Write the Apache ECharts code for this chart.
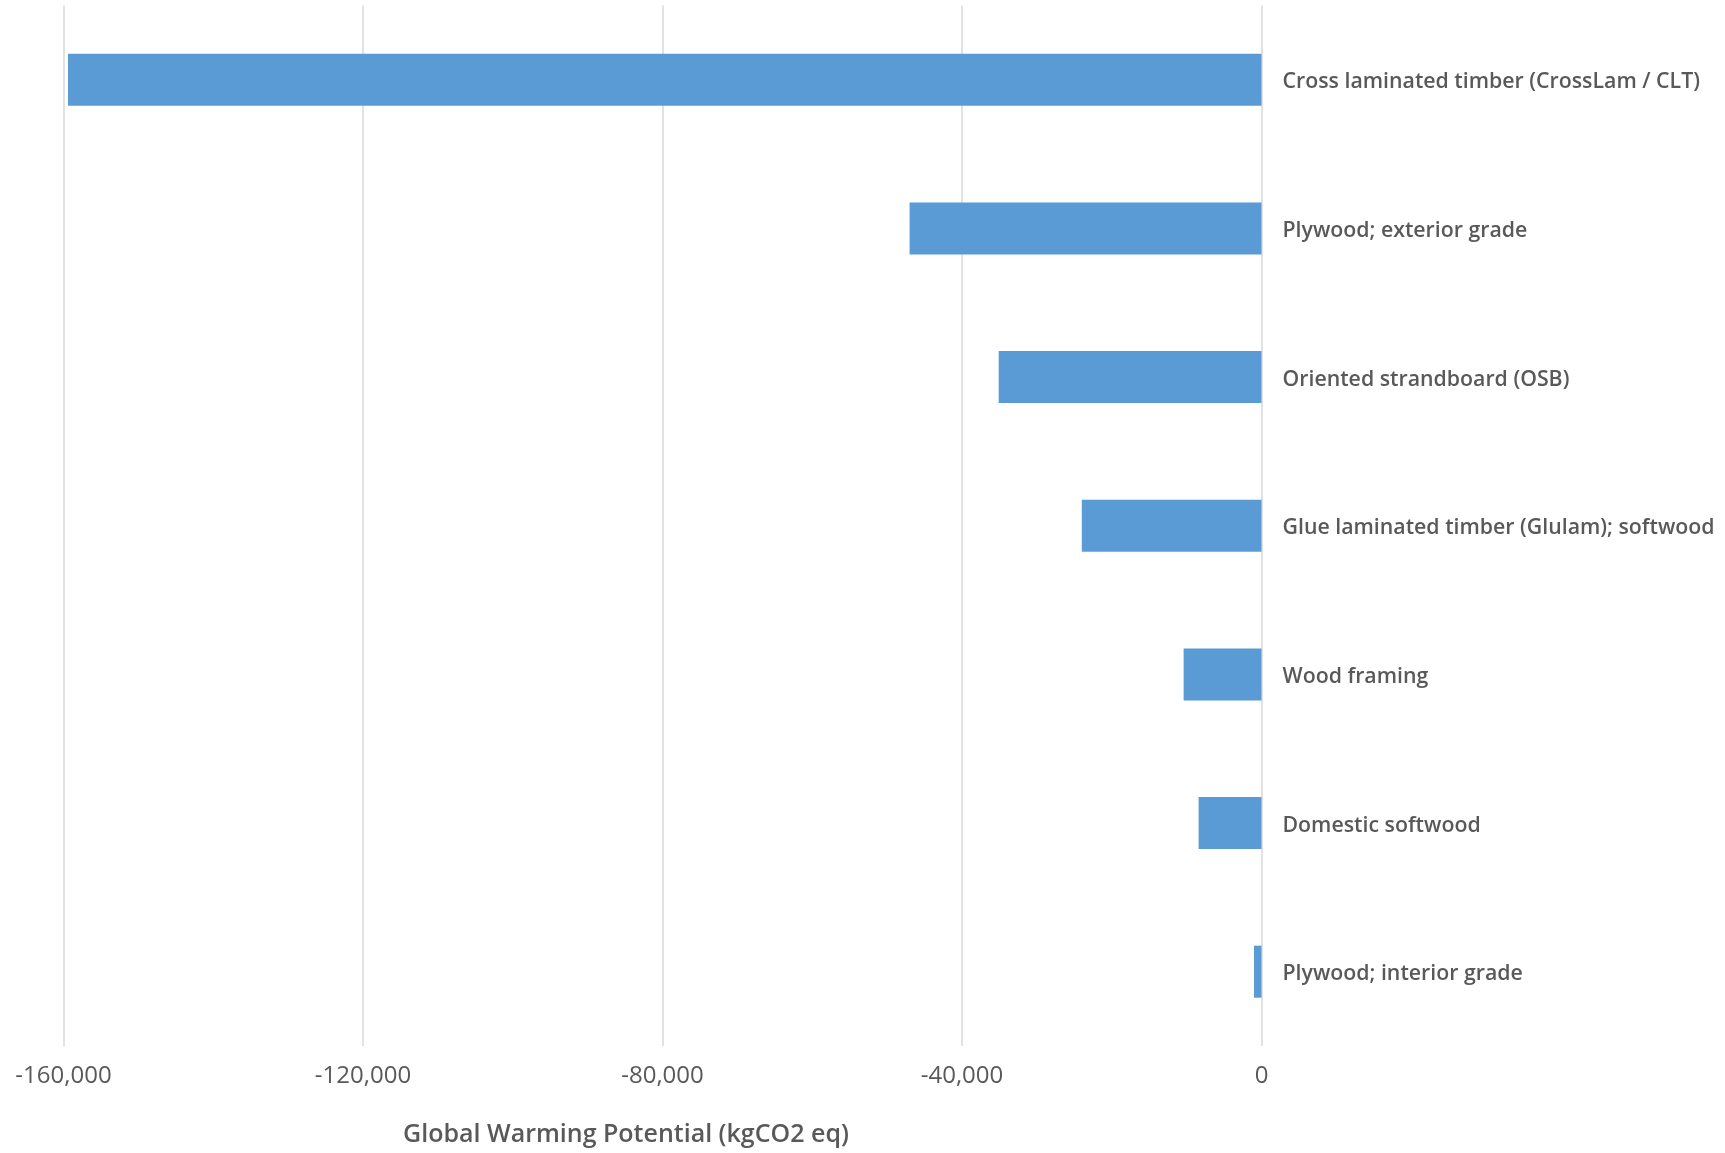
<!DOCTYPE html>
<html>
<head>
<meta charset="utf-8">
<script src="https://cdn.jsdelivr.net/npm/echarts@6/dist/echarts.min.js"></script>
<style>
  html, body { margin: 0; padding: 0; background: #ffffff; }
  #chart { width: 1725px; height: 1153px; }
</style>
</head>
<body>
<div id="chart"></div>
<script>
// Timber products and their embodied carbon (kgCO2 eq)
const materials = [
  'Cross laminated timber (CrossLam / CLT)',
  'Plywood; exterior grade',
  'Oriented strandboard (OSB)',
  'Glue laminated timber (Glulam); softwood',
  'Wood framing',
  'Domestic softwood',
  'Plywood; interior grade'
];
const gwpValues = [-159400, -47000, -35100, -24000, -10400, -8400, -1000];
const axisMin = -160000;
const axisMax = 0;
const axisStep = 40000;

const textGrey = '#595959';
const fontFamily = '"Open Sans", Roboto, sans-serif';
const chart = echarts.init(document.getElementById('chart'), null, { renderer: 'canvas' });

chart.setOption({
  backgroundColor: '#ffffff',
  animation: false,
  grid: {
    left: 63.5, right: 463.5, top: 5.5, bottom: 107,
    containLabel: false, outerBoundsMode: 'none'
  },
  xAxis: {
    type: 'value',
    min: axisMin,
    max: axisMax,
    interval: axisStep,
    name: 'Global Warming Potential (kgCO2 eq)',
    nameLocation: 'middle',
    nameGap: 76.5,
    nameTextStyle: {
      color: textGrey, fontSize: 25, fontFamily: fontFamily, fontWeight: 600,
      padding: [0, 73, 0, 0]
    },
    axisLine: { show: false },
    axisTick: { show: false },
    axisLabel: {
      color: textGrey, fontSize: 24, fontFamily: fontFamily, margin: 18,
      formatter: v => v.toLocaleString('en-US')
    },
    splitLine: { show: true, lineStyle: { color: '#d9d9d9', width: 1.5 } }
  },
  yAxis: {
    type: 'category',
    data: materials,
    inverse: true,
    position: 'right',
    axisLine: { show: false },
    axisTick: { show: false },
    axisLabel: {
      margin: 21, align: 'left',
      formatter: v => '{cat|' + v + '}',
      rich: {
        cat: {
          color: textGrey, fontSize: 21.3, fontFamily: fontFamily, fontWeight: 600,
          padding: [5, 0, 0, 0]
        }
      }
    },
    splitLine: { show: false }
  },
  series: [{
    type: 'bar',
    data: gwpValues,
    barWidth: '35%',
    itemStyle: { color: '#5b9bd5' }
  }]
});
</script>
</body>
</html>
